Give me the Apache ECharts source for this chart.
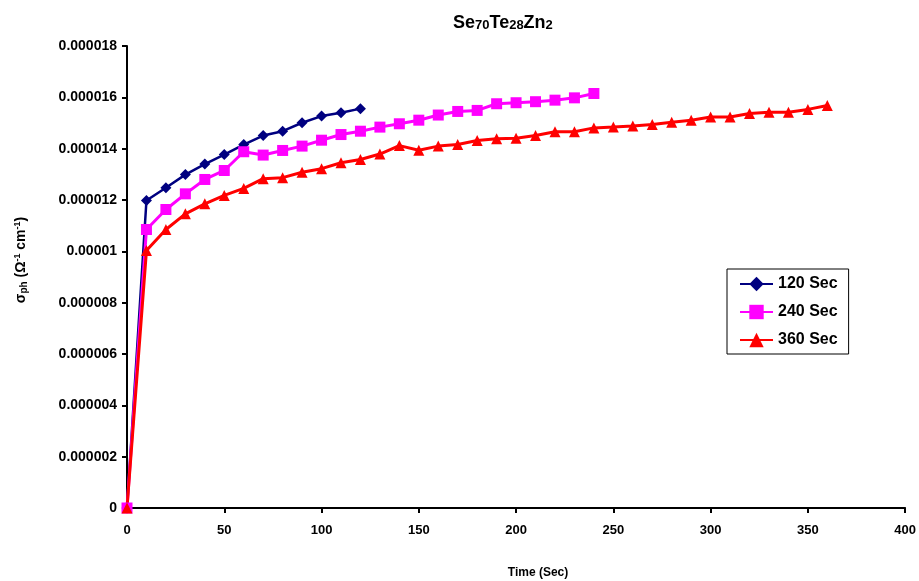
<!DOCTYPE html>
<html>
<head>
<meta charset="utf-8">
<script src="https://cdn.jsdelivr.net/npm/echarts@6/dist/echarts.min.js"></script>
<style>html,body{margin:0;padding:0;background:#fff;}#c{width:919px;height:581px;}</style>
</head>
<body>
<div id="c"></div>
<script>
var times = [0,10,20,30,40,50,60,70,80,90,100,110,120,130,140,150,160,170,180,190,200,210,220,230,240,250,260,270,280,290,300,310,320,330,340,350,360];
var sec120 = [0,11.98e-6,12.48e-6,12.99e-6,13.40e-6,13.77e-6,14.16e-6,14.51e-6,14.68e-6,15.01e-6,15.27e-6,15.40e-6,15.56e-6];
var sec240 = [0,10.85e-6,11.63e-6,12.24e-6,12.80e-6,13.15e-6,13.88e-6,13.75e-6,13.93e-6,14.10e-6,14.33e-6,14.55e-6,14.68e-6,14.84e-6,14.97e-6,15.11e-6,15.31e-6,15.45e-6,15.49e-6,15.75e-6,15.79e-6,15.83e-6,15.89e-6,15.98e-6,16.15e-6];
var sec360 = [0,10.03e-6,10.85e-6,11.46e-6,11.85e-6,12.18e-6,12.45e-6,12.83e-6,12.87e-6,13.08e-6,13.22e-6,13.45e-6,13.58e-6,13.79e-6,14.12e-6,13.94e-6,14.10e-6,14.16e-6,14.32e-6,14.39e-6,14.41e-6,14.51e-6,14.66e-6,14.66e-6,14.81e-6,14.84e-6,14.88e-6,14.94e-6,15.03e-6,15.11e-6,15.23e-6,15.23e-6,15.37e-6,15.42e-6,15.42e-6,15.53e-6,15.68e-6];
var seriesNames = ['120 Sec','240 Sec','360 Sec'];
var yTickLabels = ['0','0.000002','0.000004','0.000006','0.000008','0.00001','0.000012','0.000014','0.000016','0.000018'];
var xTickLabels = ['0','50','100','150','200','250','300','350','400'];

function pairs(vals){ return vals.map(function(v,i){ return [times[i], v]; }); }

var FONT = '"Liberation Sans", Arial, sans-serif';
var chart = echarts.init(document.getElementById('c'), null, {renderer:'canvas'});
chart.setOption({
  backgroundColor:'#ffffff',
  animation:false,
  textStyle:{fontFamily:FONT},
  grid:{left:127, right:12, top:46, bottom:73, containLabel:false},
  title:{
    text:'{b|Se}{s|70}{b|Te}{s|28}{b|Zn}{s|2}',
    left:453, top:10,
    padding:0,
    textStyle:{
      rich:{
        b:{fontFamily:FONT, fontSize:18, fontWeight:'bold', color:'#000', verticalAlign:'bottom', lineHeight:22},
        s:{fontFamily:FONT, fontSize:13, fontWeight:'bold', color:'#000', verticalAlign:'bottom', padding:[8,0,0,0], lineHeight:22}
      }
    }
  },
  legend:{
    orient:'vertical',
    left:727, top:269,
    padding:[6,11,5,12],
    itemGap:10,
    itemWidth:33, itemHeight:18,
    borderColor:'#000', borderWidth:1,
    textStyle:{fontFamily:FONT, fontSize:16, fontWeight:'bold', color:'#000', lineHeight:18},
    data:seriesNames
  },
  xAxis:{
    type:'value', min:0, max:400, interval:50,
    axisLine:{show:true, lineStyle:{color:'#000', width:2}},
    axisTick:{show:true, length:5, lineStyle:{color:'#000', width:2}},
    splitLine:{show:false},
    axisLabel:{margin:16, fontFamily:FONT, fontSize:13, fontWeight:'bold', color:'#000',
      formatter:function(v){ return xTickLabels[Math.round(v/50)]; }}
  },
  yAxis:{
    type:'value', min:0, max:0.000018, interval:0.000002,
    axisLine:{show:true, lineStyle:{color:'#000', width:2}},
    axisTick:{show:true, length:5, lineStyle:{color:'#000', width:2}},
    splitLine:{show:false},
    axisLabel:{margin:10, fontFamily:FONT, fontSize:14, fontWeight:'bold', color:'#000',
      formatter:function(v){ return yTickLabels[Math.round(v/0.000002)]; }}
  },
  graphic:[
    {type:'text', x:21, y:260, rotation:Math.PI/2,
      style:{
        text:'{b|σ}{s|ph}{b| (Ω}{p|-1}{b| cm}{p|-1}{b|)}',
        align:'center', verticalAlign:'middle',
        rich:{
          b:{fontFamily:FONT, fontSize:14, fontWeight:'bold', fill:'#000', lineHeight:18},
          s:{fontFamily:FONT, fontSize:10, fontWeight:'bold', fill:'#000', padding:[6,0,0,0], lineHeight:18},
          p:{fontFamily:FONT, fontSize:9, fontWeight:'bold', fill:'#000', padding:[0,0,7,0], lineHeight:18}
        }
      }},
    {type:'text', x:538, y:573,
      style:{text:'Time (Sec)', align:'center', verticalAlign:'middle',
        fontFamily:FONT, fontSize:12, fontWeight:'bold', fill:'#000'}}
  ],
  series:[
    {name:seriesNames[0], type:'line', data:pairs(sec120), symbol:'diamond', symbolSize:11,
      lineStyle:{color:'#000080', width:2.5}, itemStyle:{color:'#000080'}},
    {name:seriesNames[1], type:'line', data:pairs(sec240), symbol:'rect', symbolSize:11,
      lineStyle:{color:'#FF00FF', width:3}, itemStyle:{color:'#FF00FF'}},
    {name:seriesNames[2], type:'line', data:pairs(sec360), symbol:'triangle', symbolSize:11,
      lineStyle:{color:'#FF0000', width:3}, itemStyle:{color:'#FF0000'}}
  ]
});
</script>
</body>
</html>
